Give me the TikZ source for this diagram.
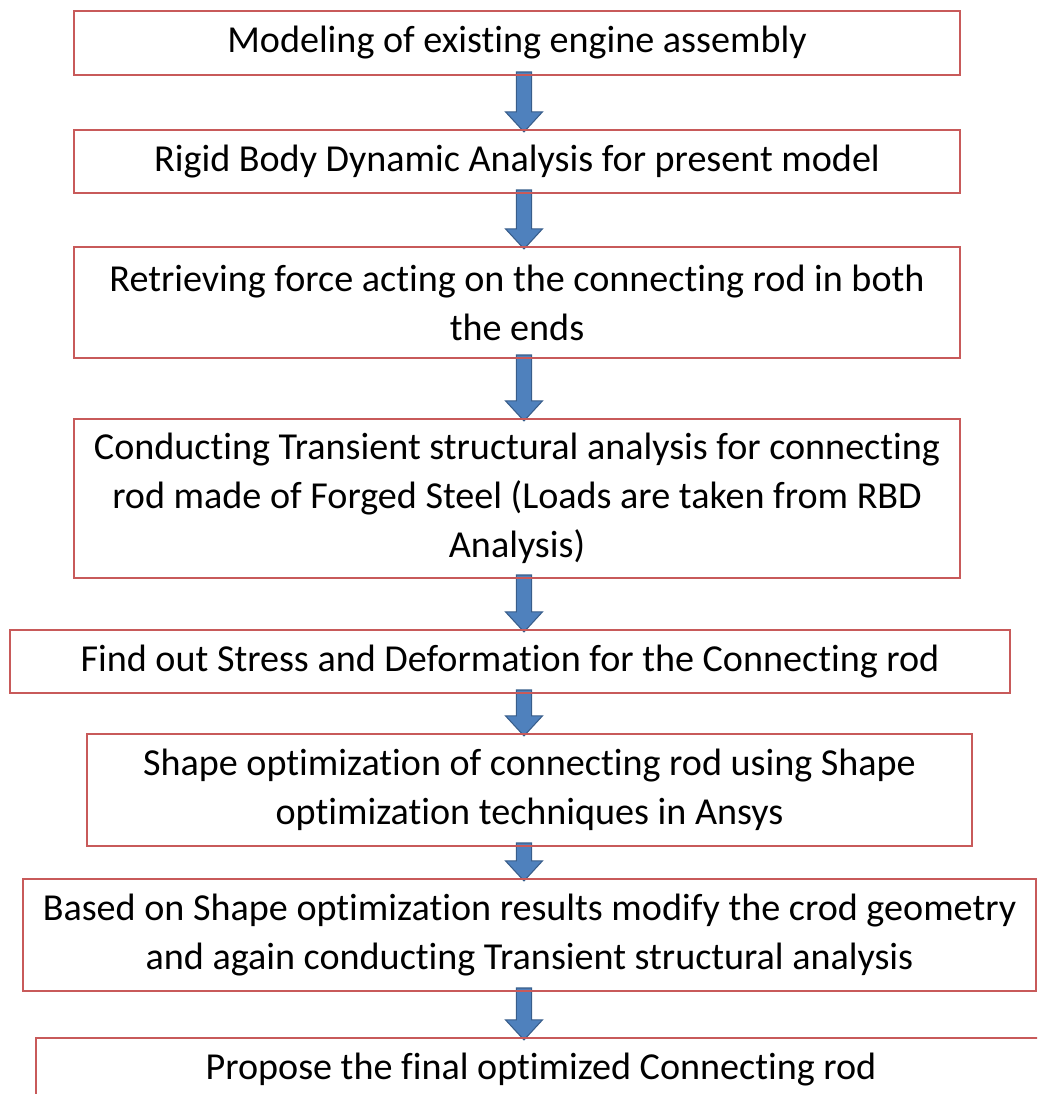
\documentclass[tikz,border=0pt]{standalone}
\usepackage{fontspec}
\setmainfont{Carlito}[Ligatures=NoCommon]
\usepackage{tikz}
\usetikzlibrary{positioning,calc,backgrounds}

\definecolor{boxred}{RGB}{200,90,90}
\definecolor{arrowblue}{HTML}{4F81BD}
\definecolor{arrowedge}{HTML}{385D8A}

\begin{document}
\begin{tikzpicture}[stage/.style={draw=boxred, line width=1.1pt, inner sep=0pt, outer sep=0pt,
                      align=center, font=\fontsize{21.7}{27.9}\selectfont},
                    flow/.style={fill=arrowblue, draw=arrowedge, line width=0.6pt}]
  \useasboundingbox (0,0) rectangle (20.74,-21.88);
  \clip (0,0) rectangle (20.74,-21.88);
  \coordinate (axis) at (10.48,0);

  \node[stage, minimum width=17.72cm, minimum height=1.28cm] (model) at (10.34,-0.86)
        {Modeling of existing engine assembly};
  \node[stage, minimum width=17.72cm, minimum height=1.26cm, below=1.10cm of model] (rbd)
        {Rigid Body Dynamic Analysis for present model};
  \node[stage, minimum width=17.72cm, minimum height=2.22cm, below=1.08cm of rbd] (force)
        {Retrieving force acting on the connecting rod in both\\the ends};
  \node[stage, minimum width=17.72cm, minimum height=3.18cm, below=1.22cm of force] (trans)
        {Conducting Transient structural analysis for connecting\\rod made of Forged Steel (Loads are taken from RBD\\Analysis)};
  \node[stage, minimum width=20.0cm, minimum height=1.26cm, below=1.04cm of trans, xshift=-0.14cm] (stress)
        {Find out Stress and Deformation for the Connecting rod};
  \node[stage, minimum width=17.7cm, minimum height=2.24cm, below=0.82cm of stress, xshift=0.39cm] (shape)
        {Shape optimization of connecting rod using Shape\\optimization techniques in Ansys};
  \node[stage, minimum width=20.26cm, minimum height=2.24cm, below=0.66cm of shape] (modify)
        {Based on Shape optimization results modify the crod geometry\\and again conducting Transient structural analysis};
  \node[stage, minimum width=20.2cm, minimum height=1.26cm, below=0.94cm of modify, xshift=0.23cm] (final)
        {Propose the final optimized Connecting rod};

  \begin{pgfonlayer}{background}
    \foreach \a/\b in {model/rbd, rbd/force, force/trans, trans/stress,
                       stress/shape, shape/modify, modify/final}
      \draw[flow] let \p1=(\a.south), \p2=(\b.north), \p3=(axis) in
        (\x3-4.3pt,\y1+1.7pt) -- (\x3+4.3pt,\y1+1.7pt) -- (\x3+4.3pt,\y2+10.3pt)
        -- (\x3+10.5pt,\y2+10.3pt) -- (\x3,\y2-1.1pt) -- (\x3-10.5pt,\y2+10.3pt)
        -- (\x3-4.3pt,\y2+10.3pt) -- cycle;
  \end{pgfonlayer}
\end{tikzpicture}
\end{document}
